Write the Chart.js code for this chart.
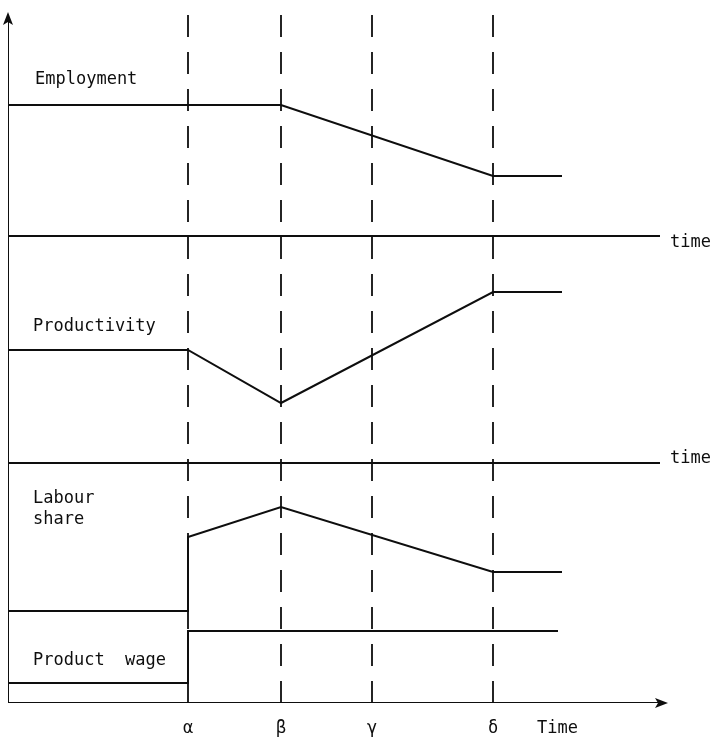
<!DOCTYPE html>
<html>
<head>
<meta charset="utf-8">
<script src="https://cdn.jsdelivr.net/npm/chart.js@4/dist/chart.umd.min.js"></script>
<style>
  html, body { margin: 0; padding: 0; background: #fff; }
  #wrap { width: 725px; height: 738px; }
</style>
</head>
<body>
<div id="wrap"><canvas id="schematic" width="725" height="738"></canvas></div>
<script>
// event times (alpha, beta, gamma, delta) and end points on the time axis
const eventNames = ['α', 'β', 'γ', 'δ'];
const eventTimes = [18.0, 27.3, 36.4, 48.5];
const seriesEnd = 55.4;
const wageEnd = 55.0;
const timeLineEnd = 65.2;
const axisEnd = 65.7;
const axisTop = 68.8;

// panel baselines ("time" lines)
const baselines = [46.7, 24.0];

// series: times + levels
const employmentT = [0, eventTimes[1], eventTimes[3], seriesEnd];
const employmentV = [59.8, 59.8, 52.7, 52.7];

const productivityT = [0, eventTimes[0], eventTimes[1], eventTimes[3], seriesEnd];
const productivityV = [35.3, 35.3, 30.0, 41.1, 41.1];

const labourShareT = [0, eventTimes[0], eventTimes[0], eventTimes[1], eventTimes[3], seriesEnd];
const labourShareV = [9.2, 9.2, 16.6, 19.6, 13.1, 13.1];

const productWageT = [0, eventTimes[0], eventTimes[0], wageEnd];
const productWageV = [2.0, 2.0, 7.2, 7.2];

const INK = '#0e0e0e';
const FONT = '17px "DejaVu Sans Mono", monospace';

const pts = (t, v) => t.map((x, i) => ({ x: x, y: v[i] }));
const solid = (data) => ({
    data: data, borderColor: INK, borderWidth: 2, pointRadius: 0,
    fill: false, tension: 0
});

const datasets = [
    solid([{ x: 0, y: 0 }, { x: 0, y: axisTop }]),        // y axis
    solid([{ x: 0, y: 0 }, { x: axisEnd, y: 0 }]),        // x axis
    ...baselines.map(b => solid([{ x: 0, y: b }, { x: timeLineEnd, y: b }])),
    solid(pts(employmentT, employmentV)),
    solid(pts(productivityT, productivityV)),
    solid(pts(labourShareT, labourShareV)),
    solid(pts(productWageT, productWageV)),
    ...eventTimes.map(t => Object.assign(
        solid([{ x: t, y: 0 }, { x: t, y: axisTop + 0.1 }]),
        { borderDash: [22, 15], borderWidth: 1.8 }))
];

// arrowheads and texts
const annotate = {
    id: 'annotate',
    afterDatasetsDraw(chart) {
        const { ctx, scales: { x, y } } = chart;
        const X = v => x.getPixelForValue(v), Y = v => y.getPixelForValue(v);
        ctx.save();
        ctx.fillStyle = INK;
        // y arrow
        ctx.beginPath();
        ctx.moveTo(X(0), Y(axisTop) - 3);
        ctx.lineTo(X(0) - 5, Y(axisTop) + 10);
        ctx.lineTo(X(0), Y(axisTop) + 7);
        ctx.lineTo(X(0) + 5, Y(axisTop) + 10);
        ctx.closePath();
        ctx.fill();
        // x arrow
        ctx.beginPath();
        ctx.moveTo(X(axisEnd) + 3, Y(0));
        ctx.lineTo(X(axisEnd) - 10, Y(0) - 5);
        ctx.lineTo(X(axisEnd) - 7, Y(0));
        ctx.lineTo(X(axisEnd) - 10, Y(0) + 5);
        ctx.closePath();
        ctx.fill();

        ctx.font = FONT;
        ctx.textBaseline = 'middle';
        ctx.textAlign = 'left';
        ctx.fillText('Employment', X(0) + 27, Y(employmentV[0]) - 25);
        ctx.fillText('Productivity', X(0) + 25, Y(productivityV[0]) - 23);
        ctx.fillText('Labour', X(0) + 25, Y(baselines[1]) + 36);
        ctx.fillText('share', X(0) + 25, Y(baselines[1]) + 57);
        ctx.fillText('Product  wage', X(0) + 25, Y(productWageV[0]) - 22);
        ctx.fillText('time', X(timeLineEnd) + 10, Y(baselines[0]) + 7);
        ctx.fillText('time', X(timeLineEnd) + 10, Y(baselines[1]) - 4);
        ctx.textAlign = 'center';
        eventNames.forEach((n, i) => ctx.fillText(n, X(eventTimes[i]), Y(0) + 26));
        ctx.textAlign = 'left';
        ctx.fillText('Time', X(eventTimes[3]) + 44, Y(0) + 26);
        ctx.restore();
    }
};

new Chart(document.getElementById('schematic').getContext('2d'), {
    type: 'line',
    data: { datasets: datasets },
    options: {
        responsive: false,
        animation: false,
        layout: { padding: { left: 8, right: 52, top: 13, bottom: 35 } },
        plugins: { legend: { display: false }, tooltip: { enabled: false } },
        scales: {
            x: { type: 'linear', min: 0, max: 66.5, display: false },
            y: { type: 'linear', min: 0, max: 69, display: false }
        }
    },
    plugins: [annotate]
});
</script>
</body>
</html>
